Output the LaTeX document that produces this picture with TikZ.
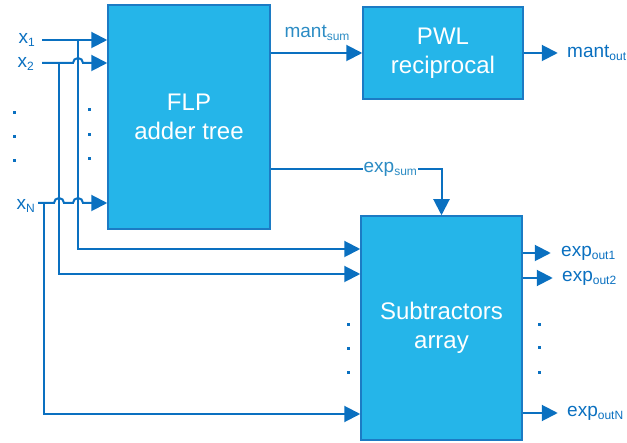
\documentclass[tikz,border=0pt]{standalone}
\usepackage{fontspec}
\setmainfont{Liberation Sans}
\usetikzlibrary{arrows.meta}
\definecolor{boxfill}{HTML}{25B5E9}
\definecolor{boxline}{HTML}{1C7BC4}
\definecolor{wire}{HTML}{0A70C0}
\definecolor{lbltxt}{HTML}{2C8CC4}
\newcommand{\lo}[1]{\raisebox{-0.35ex}{\fontsize{12}{12}\selectfont #1}}

\begin{document}
\begin{tikzpicture}[x=1pt,y=-1pt,
  blk/.style={draw=boxline,line width=1.5pt,fill=boxfill,text=white,align=center,
    font=\fontsize{24}{29}\selectfont,inner sep=0pt},
  arr/.style={draw=wire,line width=2pt,-{Triangle[length=16pt,width=16pt]}},
  wireln/.style={draw=wire,line width=2pt},
  lbl/.style={text=wire,font=\fontsize{19}{19}\selectfont,inner sep=1pt}]
\useasboundingbox (0,0) rectangle (627,443);

% blocks
\node[blk,minimum width=162,minimum height=224] (flp) at (189,117) {FLP\\adder tree};
\node[blk,minimum width=160,minimum height=92] (pwl) at (443,53) {PWL\\reciprocal};
\node[blk,minimum width=161,minimum height=224] (sub) at (441.5,328) {Subtractors\\array};

% inputs
\node[lbl,anchor=east] (x1) at (36,40) {x\lo{1}};
\node[lbl,anchor=east] (x2) at (35,64) {x\lo{2}};
\node[lbl,anchor=east] (xN) at (36,206) {x\lo{N}};
\coordinate (in1) at (42,40);
\coordinate (in2) at (42,63);
\coordinate (inN) at (38,203);
\coordinate (t1) at (78,40);
\coordinate (t2) at (59,63);
\coordinate (tN) at (44,203);

\draw[arr] (in1) -- (in1 -| flp.west);
\draw[arr] (in2) -- (73,63) arc[start angle=180,end angle=0,radius=5pt] -- (in2 -| flp.west);
\draw[arr] (inN) -- (54,203) arc[start angle=180,end angle=0,radius=5pt]
  -- (73,203) arc[start angle=180,end angle=0,radius=5pt] -- (inN -| flp.west);

% branches to the subtractors
\draw[arr] (t1) |- (sub.west |- 0,249);
\draw[arr] (t2) |- (sub.west |- 0,274);
\draw[arr] (tN) |- (sub.west |- 0,414);

% sums
\draw[arr] (flp.east |- pwl.west) -- (pwl.west);
\node[lbl,text=lbltxt] (mantsum) at (317,33) {mant\lo{sum}};
\draw[arr] (flp.east |- 0,169) -| (sub.north)
  node[lbl,text=lbltxt,fill=white,pos=0.35] (expsum) {exp\lo{sum}};

% outputs
\draw[arr] (pwl.east) -- ++(34,0) coordinate (mo);
\node[lbl,anchor=west] (mantout) at (566,53) {mant\lo{out}};
\draw[arr] (sub.east |- 0,253) -- ++(28,0) coordinate (o1);
\draw[arr] (sub.east |- 0,278) -- ++(30,0) coordinate (o2);
\draw[arr] (sub.east |- 0,413) -- ++(35,0) coordinate (oN);
\node[lbl,anchor=west] (eo1) at (560,253) {exp\lo{out1}};
\node[lbl,anchor=west] (eo2) at (561,278) {exp\lo{out2}};
\node[lbl,anchor=west] (eoN) at (566,413) {exp\lo{outN}};

% dots
\foreach \y in {113,137,161} \fill[wire] (12.5,\y-1.5) rectangle ++(3,3);
\foreach \y in {110,135,159} \fill[wire] (87.5,\y-1.5) rectangle ++(3,3);
\foreach \y in {325,349,373} \fill[wire] (346.5,\y-1.5) rectangle ++(3,3);
\foreach \y in {325,348,373} \fill[wire] (537.5,\y-1.5) rectangle ++(3,3);
\end{tikzpicture}
\end{document}
